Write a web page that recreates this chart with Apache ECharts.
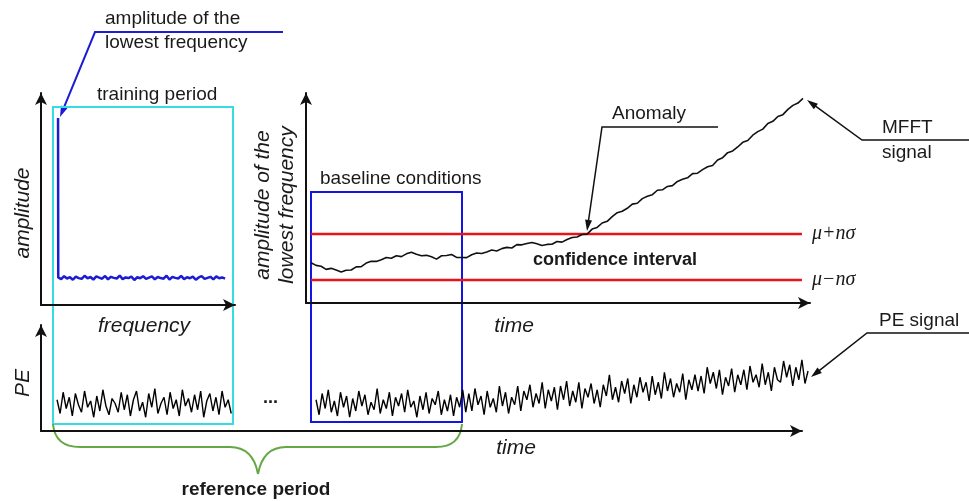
<!DOCTYPE html>
<html><head><meta charset="utf-8">
<script src="https://cdn.jsdelivr.net/npm/echarts/dist/echarts.min.js"></script>
<style>html,body{margin:0;padding:0;background:#fff}#c{width:969px;height:501px}</style>
</head><body><div id="c"></div>
<script>
// ---------- data ----------
// spectrum (training period): peak at the lowest frequency, then noise floor
const specPeakFreq = 8.8;
const specPeakAmp = 8.82;
const specFreqStart = 8.9;
const specFreqStep = 1.51;
const specNoise = [1.30,1.22,1.36,1.25,1.31,1.19,1.34,1.27,1.23,1.38,
  1.26,1.32,1.20,1.35,1.29,1.24,1.37,1.21,1.33,1.28,
  1.25,1.39,1.22,1.30,1.27,1.34,1.18,1.31,1.26,1.36,
  1.23,1.29,1.35,1.21,1.32,1.27,1.24,1.38,1.20,1.33,
  1.28,1.25,1.37,1.22,1.31,1.26,1.34,1.19,1.30,1.36,
  1.23,1.28,1.33,1.21,1.35,1.26,1.30,1.24];

// MFFT signal (amplitude of the lowest frequency vs time)
const mfftTimeStart = 1;
const mfftTimeStep = 1;
const mfftValues = [1.92,1.79,1.75,1.60,1.65,1.57,1.48,1.56,1.57,1.72,
  1.73,1.90,1.99,1.98,2.06,2.17,2.13,2.25,2.21,2.34,
  2.42,2.32,2.25,2.27,2.20,2.09,2.25,2.26,2.31,2.17,
  2.17,2.16,2.30,2.38,2.36,2.43,2.52,2.48,2.59,2.65,
  2.62,2.78,2.77,2.83,2.88,2.82,2.74,2.79,2.80,2.93,
  2.90,3.02,3.12,3.14,3.26,3.28,3.52,3.60,3.81,3.89,
  4.11,4.30,4.37,4.51,4.71,4.75,4.97,5.08,5.16,5.37,
  5.39,5.55,5.59,5.79,5.89,5.96,6.16,6.18,6.35,6.49,
  6.55,6.81,6.92,7.16,7.24,7.43,7.65,7.74,7.99,8.16,
  8.28,8.55,8.65,8.88,8.97,9.22,9.41,9.52,9.74];

// confidence interval
const muPlus = 3.29;
const muMinus = 1.10;
const ciStart = 1.0;
const ciEnd = 98.8;

// PE signal, training segment and monitoring segment
const peStep = 0.4;
const pe1Start = 2.1;
const pe1Values = [2.9,1.8,3.5,2.2,3.1,1.6,3.4,2.5,1.9,3.6,
  2.3,2.8,1.5,3.2,2.0,3.7,2.4,1.7,3.0,2.6,
  1.9,3.5,2.1,3.3,1.6,2.9,3.6,2.0,2.7,1.5,
  3.4,2.3,3.8,1.8,2.6,3.1,1.7,3.5,2.2,2.9,
  1.6,3.7,2.4,3.0,1.9,3.3,2.1,3.6,1.5,2.8,
  3.4,2.0,3.1,1.7,3.6,2.3,2.9,1.8];
const pe2Start = 36.0;
const pe2Values = [2.9,1.7,3.4,2.2,3.7,1.9,2.8,1.6,3.5,2.3,3.2,1.5,3.0,2.0,3.6,2.4,3.3,1.7,2.7,2.1,
  3.8,1.8,2.9,2.2,3.5,1.6,3.1,2.4,3.4,1.9,3.7,2.3,2.8,1.5,3.2,2.1,3.5,1.8,3.0,2.5,
  3.6,1.7,2.9,2.0,3.3,1.6,3.1,2.3,3.7,1.9,
  3.4,2.0,3.8,2.5,3.2,1.7,3.6,2.3,3.0,1.9,4.0,2.4,3.5,1.8,3.1,
  2.5,4.0,2.0,3.6,2.9,4.1,2.3,3.4,2.6,4.3,2.2,3.7,2.8,3.9,2.1,
  4.0,2.9,4.4,2.4,3.6,2.7,4.3,2.2,3.8,3.1,4.2,2.6,3.7,2.3,4.1,
  3.2,4.9,2.9,3.9,2.7,4.4,3.4,4.6,2.6,4.1,3.1,4.7,3.5,4.3,2.8,
  4.8,3.3,4.3,3.0,5.1,3.6,4.6,3.1,4.2,3.5,5.0,2.9,4.5,3.7,4.9,
  3.6,4.8,3.4,5.5,4.2,5.1,3.8,5.3,3.3,4.7,4.0,5.4,3.5,4.9,4.1,
  5.3,3.7,5.6,4.3,4.9,3.9,5.8,4.1,5.1,3.6,5.5,4.5,
  4.3,6.0,4.7,5.7,4.0,5.5,4.5,6.1,4.2,5.2];

// ---------- build ----------
const FONT = '"Liberation Sans", Arial, Helvetica, sans-serif';
const specData = [[specPeakFreq, specPeakAmp]].concat(specNoise.map((v, i) => [specFreqStart + i * specFreqStep, v]));
const mfftData = mfftValues.map((v, i) => [mfftTimeStart + i * mfftTimeStep, v]);
const pe1Data = pe1Values.map((v, i) => [pe1Start + i * peStep, v]);
const pe2Data = pe2Values.map((v, i) => [pe2Start + i * peStep, v]);

function axis(gridIndex, min, max, name, nameGap, pad) {
  return {
    type: 'value', gridIndex, min, max,
    axisLine: {show: true, onZero: false, symbol: ['none', 'arrow'], symbolSize: [9, 12],
      lineStyle: {color: '#111', width: 2}},
    axisTick: {show: false}, axisLabel: {show: false}, splitLine: {show: false},
    name, nameLocation: 'middle', nameGap,
    nameTextStyle: {fontFamily: FONT, fontStyle: 'italic', fontSize: 21, color: '#1a1a1a',
      lineHeight: 24, padding: pad}
  };
}
function hiddenAxis(gridIndex, min, max) {
  return {type: 'value', gridIndex, min, max, show: false, splitLine: {show: false}};
}

function arrow(points, color, width) {
  const n = points.length;
  const [tx, ty] = points[n - 1];
  const [fx, fy] = points[n - 2];
  const dx = tx - fx, dy = ty - fy, L = Math.hypot(dx, dy);
  const ux = dx / L, uy = dy / L;
  const len = 11, hw = 3.5;
  const bx = tx - ux * len, by = ty - uy * len;
  return [
    {type: 'polyline', shape: {points: points.slice(0, n - 1).concat([[bx + ux * 3, by + uy * 3]])},
      style: {stroke: color, lineWidth: width, fill: 'none'}},
    {type: 'polygon', shape: {points: [[tx, ty], [bx - uy * hw, by + ux * hw], [bx + uy * hw, by - ux * hw]]},
      style: {fill: color}}
  ];
}
function txt(x, y, text, opt) {
  opt = opt || {};
  return {type: 'text', x, y, z: 10, style: {text, fill: '#1a1a1a',
    font: (opt.w || '') + ' ' + (opt.size || 19) + 'px ' + (opt.family || FONT),
    align: opt.align || 'left', verticalAlign: 'middle'}};
}
const braceStyle = {stroke: '#64a845', lineWidth: 2, fill: 'none'};
function qcurve(x1, y1, cx, cy, x2, y2) {
  return {type: 'bezierCurve', shape: {x1, y1, cpx1: cx, cpy1: cy, x2, y2}, style: braceStyle};
}
function seg(x1, y1, x2, y2) {
  return {type: 'line', shape: {x1, y1, x2, y2}, style: braceStyle};
}

const graphics = [].concat(
  [txt(105, 19, 'amplitude of the'), txt(105, 43, 'lowest frequency')],
  arrow([[283, 32], [95, 32], [60, 117]], '#1c1cd4', 2),
  [txt(97, 95, 'training period')],
  [{type: 'rect', shape: {x: 53, y: 107, width: 180, height: 317}, style: {stroke: '#35dde3', lineWidth: 2, fill: 'none'}}],
  [{type: 'rect', shape: {x: 311, y: 192, width: 151, height: 230}, style: {stroke: '#1515e0', lineWidth: 2, fill: 'none'}}],
  [txt(320, 179, 'baseline conditions')],
  [txt(612, 114, 'Anomaly')],
  arrow([[718, 127], [602, 127], [587, 231]], '#111', 1.5),
  [txt(882, 128, 'MFFT'), txt(882, 153, 'signal')],
  arrow([[969, 140], [862, 140], [807, 100]], '#111', 1.5),
  [txt(533, 260, 'confidence interval', {w: 'bold', size: 18})],
  [txt(879, 321, 'PE signal')],
  arrow([[969, 333], [867, 333], [811, 377]], '#111', 1.5),
  [txt(263, 398, '...', {w: 'bold', size: 18})],
  [qcurve(53, 424, 55, 447, 80, 447), seg(80, 447, 230, 447), qcurve(230, 447, 253, 447, 258, 474),
   qcurve(258, 474, 263, 447, 286, 447), seg(286, 447, 436, 447), qcurve(436, 447, 460, 447, 462, 424)],
  [txt(256, 490, 'reference period', {w: 'bold', size: 19, align: 'center'})]
);

const chart = echarts.init(document.getElementById('c'), null, {renderer: 'canvas'});
chart.setOption({
  animation: false,
  backgroundColor: '#fff',
  grid: [
    {left: 41, top: 93, width: 194, height: 212},
    {left: 306, top: 93, width: 504, height: 210},
    {left: 41, top: 325, width: 761, height: 106},
    {left: 41, top: 325, width: 772, height: 106}
  ],
  xAxis: [
    axis(0, 0, 100.1, 'frequency', 9, [0, 0, 0, 12]),
    axis(1, 0, 100.4, 'time', 11, [0, 88, 0, 0]),
    axis(2, 0, 99.6, 'time', 5, [0, 0, 0, 189]),
    hiddenAxis(3, 0, 101.05)
  ],
  yAxis: [
    axis(0, 0, 10.0, 'amplitude', 6, [0, 28, 0, 0]),
    axis(1, 0, 10.0, 'amplitude of the\nlowest frequency', 7, [0, 14, 0, 0]),
    axis(2, 0.4, 8.88, 'PE', 6, [0, 10, 0, 0]),
    hiddenAxis(3, 0.4, 8.88)
  ],
  series: [
    {type: 'line', xAxisIndex: 0, yAxisIndex: 0, data: specData, symbol: 'none', clip: false,
      lineStyle: {color: '#1c1cd4', width: 2.5}},
    {type: 'line', xAxisIndex: 1, yAxisIndex: 1, data: [[ciStart, muPlus], [ciEnd, muPlus]], symbol: 'none', clip: false,
      lineStyle: {color: '#e8141c', width: 2.5},
      endLabel: {show: true, formatter: '\u03bc+n\u03c3', distance: 10, color: '#1a1a1a',
        fontFamily: '"Liberation Serif", "Times New Roman", serif', fontStyle: 'italic', fontSize: 20}},
    {type: 'line', xAxisIndex: 1, yAxisIndex: 1, data: [[ciStart, muMinus], [ciEnd, muMinus]], symbol: 'none', clip: false,
      lineStyle: {color: '#e8141c', width: 2.5},
      endLabel: {show: true, formatter: '\u03bc\u2212n\u03c3', distance: 10, color: '#1a1a1a',
        fontFamily: '"Liberation Serif", "Times New Roman", serif', fontStyle: 'italic', fontSize: 20}},
    {type: 'line', xAxisIndex: 1, yAxisIndex: 1, data: mfftData, symbol: 'none', clip: false,
      lineStyle: {color: '#111', width: 1.6}},
    {type: 'line', xAxisIndex: 3, yAxisIndex: 3, data: pe1Data, symbol: 'none', clip: false,
      lineStyle: {color: '#000', width: 1.4}},
    {type: 'line', xAxisIndex: 3, yAxisIndex: 3, data: pe2Data, symbol: 'none', clip: false,
      lineStyle: {color: '#000', width: 1.4}}
  ],
  graphic: graphics
});
</script></body></html>
